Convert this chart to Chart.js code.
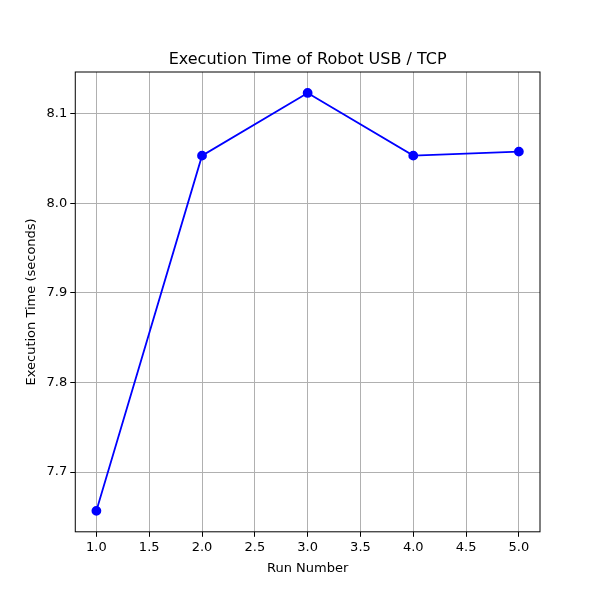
<!DOCTYPE html>
<html>
<head>
<script src="https://cdn.jsdelivr.net/npm/chart.js@4"></script>
<style>body{margin:0;background:#fff}</style>
</head>
<body>
<canvas id="myChart" width="600" height="600"></canvas>
<script>
var runs = [1, 2, 3, 4, 5];
var times = [7.6567, 8.0533, 8.1233, 8.0533, 8.0578];
var titleText = 'Execution Time of Robot USB / TCP';

// box round the plot area and title centred over it, like matplotlib
var frame = {
  id: 'frame',
  afterDraw: function (chart) {
    var a = chart.chartArea, c = chart.ctx;
    c.save();
    c.strokeStyle = '#000';
    c.lineWidth = 1;
    c.strokeRect(a.left, a.top, a.right - a.left, a.bottom - a.top);
    c.fillStyle = '#000';
    c.font = '16px "DejaVu Sans"';
    c.textAlign = 'center';
    c.textBaseline = 'alphabetic';
    c.fillText(titleText, (a.left + a.right) / 2, a.top - 8);
    c.restore();
  }
};

var ctx = document.getElementById('myChart').getContext('2d');
var chart = new Chart(ctx, {
  type: 'line',
  data: {
    datasets: [{
      data: runs.map(function (r, i) { return { x: r, y: times[i] }; }),
      borderColor: 'blue',
      backgroundColor: 'blue',
      borderWidth: 1.8,
      pointRadius: 4,
      tension: 0
    }]
  },
  options: {
    responsive: false,
    animation: false,
    layout: { padding: { left: 20, right: 60, top: 72, bottom: 22 } },
    plugins: {
      legend: { display: false },
      tooltip: { enabled: false }
    },
    scales: {
      x: {
        type: 'linear',
        min: 0.8,
        max: 5.2,
        grid: { color: '#b0b0b0', tickColor: '#000', tickLength: 5 },
        border: { display: false },
        ticks: {
          stepSize: 0.5,
          includeBounds: false,
          color: '#000',
          font: { family: 'DejaVu Sans', size: 13 },
          callback: function (v) { return v.toFixed(1); }
        },
        title: { display: true, text: 'Run Number', color: '#000', font: { family: 'DejaVu Sans', size: 13 }, padding: 2 }
      },
      y: {
        min: 7.6333,
        max: 8.1467,
        grid: { color: '#b0b0b0', tickColor: '#000', tickLength: 5 },
        border: { display: false },
        ticks: {
          stepSize: 0.1,
          includeBounds: false,
          color: '#000',
          font: { family: 'DejaVu Sans', size: 13 },
          callback: function (v) { return v.toFixed(1); }
        },
        title: { display: true, text: 'Execution Time (seconds)', color: '#000', font: { family: 'DejaVu Sans', size: 13 }, padding: 4 }
      }
    }
  },
  plugins: [frame]
});
</script>
</body>
</html>
